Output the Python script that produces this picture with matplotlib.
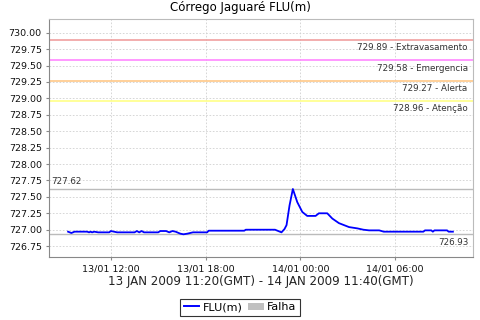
import pandas as pd
import matplotlib
matplotlib.use("Agg")
import matplotlib.pyplot as plt
import matplotlib.dates as mdates
from matplotlib.lines import Line2D
from matplotlib.patches import Patch

# horas a partir de 13/01/2009 00:00 e nivel (m)
horas = [9.29, 9.5, 9.7, 10.5, 10.62, 10.72, 10.81, 10.95, 11.2, 11.9, 12.0, 12.2, 12.4,
         13.5, 13.65, 13.8, 13.95, 14.1, 15.0, 15.13, 15.5, 15.7, 15.9, 16.1, 16.4,
         16.6, 16.85, 17.2, 18.1, 18.2, 20.45, 20.55, 22.4, 22.81, 23.0, 23.13, 23.32,
         23.53, 23.81, 24.13, 24.44, 24.97, 25.18, 25.71, 26.03, 26.45, 27.09, 27.62,
         28.0, 28.36, 29.0, 29.29, 31.8, 31.9, 32.3, 32.4, 32.5, 33.3, 33.4, 33.67]
nivel = [726.97, 726.95, 726.97, 726.97, 726.96, 726.97, 726.96, 726.97, 726.96, 726.96,
         726.98, 726.97, 726.96, 726.96, 726.98, 726.96, 726.98, 726.96, 726.96, 726.98,
         726.98, 726.96, 726.98, 726.97, 726.94, 726.93, 726.94, 726.96, 726.96, 726.985,
         726.985, 727.00, 727.00, 726.96, 727.01, 727.07, 727.37, 727.62, 727.42, 727.27,
         727.21, 727.21, 727.25, 727.25, 727.17, 727.10, 727.04, 727.02, 727.00, 726.99,
         726.99, 726.97, 726.97, 726.99, 726.99, 726.97, 726.99, 726.99, 726.97, 726.97]

cotas = [729.89, 729.58, 729.27, 728.96]
cotas_nomes = ["Extravasamento", "Emergencia", "Alerta", "Atenção"]
cotas_cores = ["#f0a0a0", "#ff88ff", "#ffc888", "#ffff88"]
nivel_max = 727.62
nivel_min = 726.93

inicio = pd.Timestamp("2009-01-13 00:00")
tempos = [inicio + pd.Timedelta(hours=h) for h in horas]

fig = plt.figure(figsize=(4.8, 3.2), dpi=100)
ax = fig.add_axes([0.103, 0.198, 0.882, 0.743])

ax.set_xlim(inicio + pd.Timedelta(hours=8.11), inicio + pd.Timedelta(hours=34.93))
ax.set_ylim(726.59, 730.21)

ax.grid(True, color="#d0d0d0", linestyle=(0, (2, 2)), linewidth=0.6)
ax.set_axisbelow(True)

for c, nome, cor in zip(cotas, cotas_nomes, cotas_cores):
    ax.axhline(c, color=cor, linewidth=1.2)
    ax.text(0.988, c - 0.05, f"{c:.2f} - {nome}", transform=ax.get_yaxis_transform(),
            ha="right", va="top", fontsize=6.3, color="#333333")

ax.axhline(nivel_max, color="#bbbbbb", linewidth=1)
ax.axhline(nivel_min, color="#bbbbbb", linewidth=1)
ax.text(0.005, nivel_max + 0.04, f"{nivel_max:.2f}", transform=ax.get_yaxis_transform(),
        ha="left", va="bottom", fontsize=6.3, color="#333333")
ax.text(0.99, nivel_min - 0.05, f"{nivel_min:.2f}", transform=ax.get_yaxis_transform(),
        ha="right", va="top", fontsize=6.3, color="#333333")

ax.plot(tempos, nivel, color="#0000ff", linewidth=1.3)

ax.set_yticks([726.75 + 0.25 * i for i in range(14)])
ax.yaxis.set_major_formatter(matplotlib.ticker.FormatStrFormatter("%.2f"))
ax.xaxis.set_major_locator(mdates.HourLocator(byhour=[0, 6, 12, 18]))
ax.xaxis.set_major_formatter(mdates.DateFormatter("%d/%m %H:%M"))
ax.tick_params(labelsize=6.8, length=2, color="#888888", labelcolor="#111111")

for s in ["left", "bottom"]:
    ax.spines[s].set_color("#888888")
for s in ["right", "top"]:
    ax.spines[s].set_color("#bbbbbb")

ax.set_xlabel("13 JAN 2009 11:20(GMT) - 14 JAN 2009 11:40(GMT)", fontsize=8.6,
              color="#222222", labelpad=1)
fig.text(0.5, 0.975, "Córrego Jaguaré FLU(m)", ha="center", va="center", fontsize=8.5)

handles = [Line2D([], [], color="#0000ff", linewidth=1.4),
           Patch(facecolor="#c0c0c0", edgecolor="none")]
leg = fig.legend(handles, ["FLU(m)", "Falha"], loc="center", bbox_to_anchor=(0.5, 0.04),
                 ncol=2, fontsize=8, frameon=True, fancybox=False, handlelength=1.4,
                 handleheight=0.6, handletextpad=0.3, columnspacing=0.5,
                 borderpad=0.3, borderaxespad=0)
leg.get_frame().set_edgecolor("black")
leg.get_frame().set_linewidth(0.8)

fig.savefig("out.png", dpi=100)
